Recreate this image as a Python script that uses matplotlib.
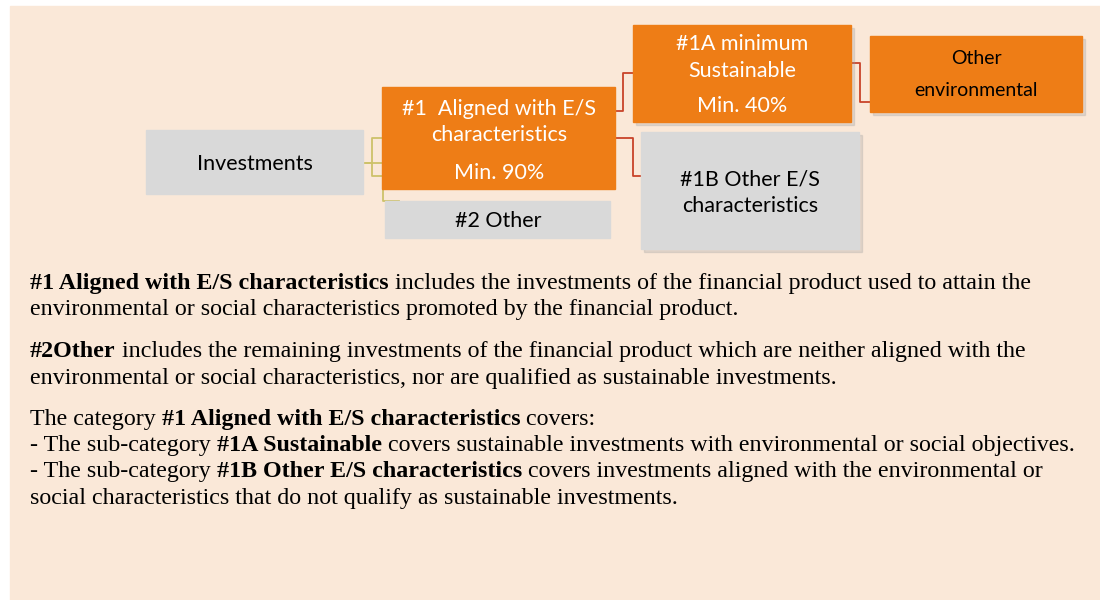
import matplotlib.pyplot as plt
from matplotlib.patches import Rectangle

# box labels
lbl_invest = "Investments"
lbl_1 = ["#1  Aligned with E/S", "characteristics"]
pct_1 = "Min. 90%"
lbl_2 = "#2 Other"
lbl_1a = ["#1A minimum", "Sustainable"]
pct_1a = "Min. 40%"
lbl_env = ["Other", "environmental"]
lbl_1b = ["#1B Other E/S", "characteristics"]

# paragraphs: each line is a list of (text, bold)
lines = [
    [("#1 Aligned with E/S characteristics", True),
     (" includes the investments of the financial product used to attain the", False)],
    [("environmental or social characteristics promoted by the financial product.", False)],
    [("#2Other", True),
     (" includes the remaining investments of the financial product which are neither aligned with the", False)],
    [("environmental or social characteristics, nor are qualified as sustainable investments.", False)],
    [("The category ", False), ("#1 Aligned with E/S characteristics", True), (" covers:", False)],
    [("- The sub-category ", False), ("#1A Sustainable", True),
     (" covers sustainable investments with environmental or social objectives.", False)],
    [("- The sub-category ", False), ("#1B Other E/S characteristics", True),
     (" covers investments aligned with the environmental or", False)],
    [("social characteristics that do not qualify as sustainable investments.", False)],
]
# baselines of the text lines
line_y = [289, 315, 357, 384, 425, 451, 477, 504]

bg = "#FAE8D8"
orange = "#EE7D16"
grey = "#D9D9D9"
olive = "#CDC26A"
red = "#C9442A"
box_font = "Lato"
serif = "Liberation Serif"

fig = plt.figure(figsize=(11, 6), dpi=100)
ax = fig.add_axes([0, 0, 1, 1])
ax.set_xlim(0, 1100)
ax.set_ylim(600, 0)
ax.axis("off")

ax.add_patch(Rectangle((10, 6), 1090, 594, color=bg, zorder=0))


def box(x, y, w, h, color, shadow=False):
    if shadow:
        ax.add_patch(Rectangle((x + 3, y + 3), w, h, color="#999999", alpha=0.25, zorder=1))
    ax.add_patch(Rectangle((x, y), w, h, color=color, zorder=2))


def txt(x, y, s, color="black", size=15.5):
    ax.text(x, y + 2, s, ha="center", va="center", color=color, fontsize=size,
            family=box_font, zorder=3)


# connectors
ax.plot([363, 372, 372, 382], [163, 163, 138, 138], color=olive, lw=1.3, zorder=1)
ax.plot([372, 372, 382], [163, 176, 176], color=olive, lw=1.3, zorder=1)
ax.plot([363, 383, 383, 399], [163, 163, 201, 201], color=olive, lw=1.3, zorder=1)
ax.plot([615, 623, 623, 633], [111, 111, 73, 73], color=red, lw=1.3, zorder=1)
ax.plot([615, 633, 633, 641], [138, 138, 176, 176], color=red, lw=1.3, zorder=1)
ax.plot([851, 860, 860, 870], [63, 63, 102, 102], color=red, lw=1.3, zorder=1)

# boxes
box(146, 130, 217, 64, grey)
txt(255, 162, lbl_invest)

box(382, 87, 233, 102, orange)
txt(499, 107, lbl_1[0], "white")
txt(499, 133, lbl_1[1], "white")
txt(499, 171, pct_1, "white")

box(385, 201, 225, 37, grey)
txt(498, 219, lbl_2)

box(633, 25, 218, 97, orange, shadow=True)
txt(742, 42, lbl_1a[0], "white")
txt(742, 69, lbl_1a[1], "white")
txt(742, 104, pct_1a, "white")

box(870, 36, 212, 76, orange, shadow=True)
txt(976, 57, lbl_env[0], size=14)
txt(976, 89, lbl_env[1], size=14)

box(641, 132, 218, 117, grey, shadow=True)
txt(750, 178, lbl_1b[0])
txt(750, 204, lbl_1b[1])

# rich text paragraphs, pieces placed one after another on a common baseline
fig.canvas.draw()
renderer = fig.canvas.get_renderer()
for segs, y in zip(lines, line_y):
    x = 30
    for s, b in segs:
        t = ax.text(x, y, s, ha="left", va="baseline", fontsize=17.3, family=serif,
                    fontweight="bold" if b else "normal", color="black", zorder=3)
        bb = t.get_window_extent(renderer)
        x += bb.width

fig.savefig("out.png", dpi=100, facecolor="white")
